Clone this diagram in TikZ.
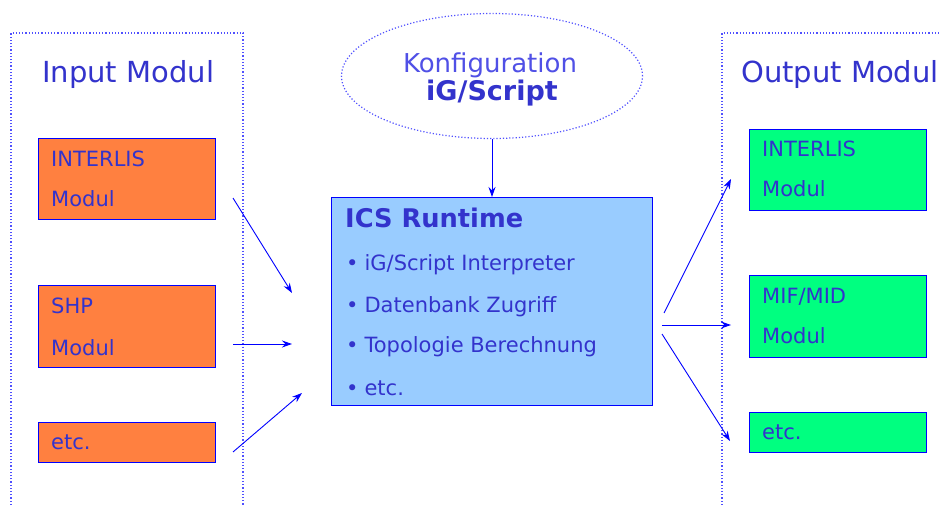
\documentclass[tikz,border=0pt]{standalone}
\usepackage{fontspec}
\setmainfont{DejaVu Sans}
\usetikzlibrary{arrows.meta,shapes.geometric}
\definecolor{txtblue}{RGB}{51,51,204}
\definecolor{lineblue}{RGB}{0,0,255}
\definecolor{frameblue}{RGB}{80,80,255}
\definecolor{inorange}{RGB}{255,128,64}
\definecolor{outgreen}{RGB}{0,255,128}
\definecolor{icsblue}{RGB}{153,204,255}
\definecolor{konfblue}{RGB}{80,80,230}
\tikzset{
  modbox/.style={draw=lineblue, line width=1.1pt, rectangle, inner sep=0pt, anchor=north west},
  boxtxt/.style={anchor=base west, inner sep=0pt, text=txtblue, font=\fontsize{21}{24}\selectfont},
  titletxt/.style={anchor=base west, inner sep=0pt, text=txtblue, font=\fontsize{29}{32}\selectfont},
  frame/.style={draw=frameblue, line width=1.2pt, dotted},
  conn/.style={draw=lineblue, line width=0.9pt, -{Stealth[length=10pt,width=7pt]}},
}
\begin{document}
\begin{tikzpicture}[x=1pt,y=-1pt]
\useasboundingbox (0,0) rectangle (940,505);
% frames
\coordinate (fi1) at (11,505);
\coordinate (fi2) at (11,33);
\coordinate (fi3) at (243,33);
\coordinate (fi4) at (243,505);
\draw[frame] (fi1) -- (fi2) -- (fi3) -- (fi4);
\coordinate (fo1) at (722,505);
\coordinate (fo2) at (722,33);
\coordinate (fo3) at (940,33);
\draw[frame] (fo1) -- (fo2) -- (fo3);
% titles
\node[titletxt] (tin) at (42,83) {Input Modul};
\node[titletxt] (tout) at (741,83) {Output Modul};
% input boxes
\node[modbox, fill=inorange, minimum width=177pt, minimum height=81pt] (in1) at (38,138) {};
\node[boxtxt] (in1a) at (51,167) {INTERLIS};
\node[boxtxt] (in1b) at (51,207) {Modul};
\node[modbox, fill=inorange, minimum width=177pt, minimum height=82pt] (in2) at (38,285) {};
\node[boxtxt] (in2a) at (51,313) {SHP};
\node[boxtxt] (in2b) at (51,355) {Modul};
\node[modbox, fill=inorange, minimum width=177pt, minimum height=40pt] (in3) at (38,422) {};
\node[boxtxt] (in3a) at (51,449) {etc.};
% output boxes
\node[modbox, fill=outgreen, minimum width=177pt, minimum height=81pt] (out1) at (749,129) {};
\node[boxtxt] (out1a) at (762,157) {INTERLIS};
\node[boxtxt] (out1b) at (762,197) {Modul};
\node[modbox, fill=outgreen, minimum width=177pt, minimum height=82pt] (out2) at (749,275) {};
\node[boxtxt] (out2a) at (762,303) {MIF/MID};
\node[boxtxt] (out2b) at (762,343) {Modul};
\node[modbox, fill=outgreen, minimum width=177pt, minimum height=40pt] (out3) at (749,412) {};
\node[boxtxt] (out3a) at (762,439) {etc.};
% ellipse
\node[ellipse, draw=frameblue, dotted, line width=1.2pt, minimum width=301pt, minimum height=125pt] (konf) at (492,76) {};
\node[anchor=base, inner sep=0pt, text=konfblue, font=\fontsize{26}{30}\selectfont] (konfa) at (490,73) {Konfiguration};
\node[anchor=base, inner sep=0pt, text=txtblue, font=\fontsize{27}{30}\selectfont\bfseries] (konfb) at (492,101) {iG/Script};
% ICS box
\node[modbox, fill=icsblue, minimum width=321pt, minimum height=208pt] (ics) at (331,197) {};
\node[anchor=base west, inner sep=0pt, text=txtblue, font=\fontsize{25.7}{28}\selectfont\bfseries] (icst) at (345,228) {ICS Runtime};
\node[boxtxt] (icsb1) at (346,270) {•\hspace{6pt}iG/Script Interpreter};
\node[boxtxt] (icsb2) at (346,312) {•\hspace{6pt}Datenbank Zugriff};
\node[boxtxt] (icsb3) at (346,352) {•\hspace{6pt}Topologie Berechnung};
\node[boxtxt] (icsb4) at (346,395) {•\hspace{6pt}etc.};
% connectors
\coordinate (a1s) at (233,198); \coordinate (a1e) at (292,293);
\coordinate (a2s) at (233,344); \coordinate (a2e) at (292,344);
\coordinate (a3s) at (233,452); \coordinate (a3e) at (302,393);
\draw[conn] (a1s) -- (a1e);
\draw[conn] (a2s) -- (a2e);
\draw[conn] (a3s) -- (a3e);
\draw[conn] (konf.south) -- (konf.south |- ics.north);
\coordinate (b1s) at (664,313); \coordinate (b1e) at (731,179);
\coordinate (b2s) at (662,325); \coordinate (b2e) at (731,325);
\coordinate (b3s) at (662,334); \coordinate (b3e) at (730,441);
\draw[conn] (b1s) -- (b1e);
\draw[conn] (b2s) -- (b2e);
\draw[conn] (b3s) -- (b3e);
\end{tikzpicture}
\end{document}
